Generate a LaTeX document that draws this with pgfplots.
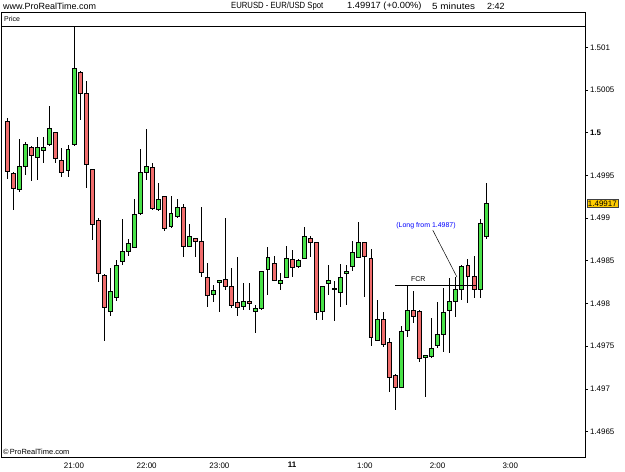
\documentclass[border=0pt]{standalone}
\usepackage{pgfplots}
\pgfplotsset{compat=1.18}
\usepackage{pgfplotstable}
\usepgfplotslibrary{statistics}
\usepackage{fontspec}
\setmainfont{Liberation Sans}
\definecolor{cgreen}{RGB}{72,226,72}
\definecolor{cred}{RGB}{240,108,108}
\definecolor{pricebox}{RGB}{255,204,0}

% 5-minute candles, EUR/USD: index, open, high, low, close
\pgfplotstableread{
i o h l c
0 1.50013 1.50017 1.49946 1.49955
1 1.49952 1.49954 1.49910 1.49935
2 1.49934 1.49993 1.49931 1.49960
3 1.49961 1.49989 1.49951 1.49986
4 1.49983 1.49984 1.49943 1.49974
5 1.49971 1.49995 1.49945 1.49983
6 1.49979 1.49995 1.49965 1.49983
7 1.49986 1.50031 1.49985 1.50005
8 1.50000 1.50001 1.49965 1.49970
9 1.49967 1.49982 1.49948 1.49954
10 1.49956 1.49986 1.49948 1.49981
11 1.49986 1.50124 1.49985 1.50075
12 1.50071 1.50072 1.50015 1.50046
13 1.50046 1.50060 1.49935 1.49963
14 1.49957 1.49958 1.49874 1.49893
15 1.49897 1.49900 1.49825 1.49835
16 1.49833 1.49834 1.49756 1.49796
17 1.49791 1.49842 1.49785 1.49814
18 1.49807 1.49851 1.49803 1.49845
19 1.49849 1.49899 1.49845 1.49861
20 1.49861 1.49876 1.49856 1.49870
21 1.49866 1.49922 1.49865 1.49904
22 1.49905 1.49981 1.49904 1.49954
23 1.49954 1.50004 1.49945 1.49960
24 1.49959 1.49965 1.49909 1.49911
25 1.49910 1.49941 1.49909 1.49922
26 1.49925 1.49926 1.49885 1.49888
27 1.49890 1.49926 1.49889 1.49905
28 1.49902 1.49922 1.49900 1.49913
29 1.49913 1.49916 1.49854 1.49867
30 1.49867 1.49893 1.49866 1.49878
31 1.49876 1.49877 1.49855 1.49873
32 1.49873 1.49913 1.49831 1.49836
33 1.49831 1.49847 1.49796 1.49810
34 1.49811 1.49822 1.49802 1.49815
35 1.49825 1.49828 1.49790 1.49827
36 1.49828 1.49900 1.49816 1.49820
37 1.49820 1.49841 1.49795 1.49798
38 1.49801 1.49854 1.49785 1.49796
39 1.49797 1.49824 1.49792 1.49802
40 1.49803 1.49824 1.49792 1.49800
41 1.49791 1.49798 1.49766 1.49794
42 1.49794 1.49838 1.49793 1.49838
43 1.49840 1.49866 1.49810 1.49854
44 1.49847 1.49856 1.49826 1.49827
45 1.49824 1.49836 1.49816 1.49827
46 1.49831 1.49867 1.49830 1.49853
47 1.49852 1.49863 1.49831 1.49842
48 1.49843 1.49852 1.49841 1.49851
49 1.49853 1.49889 1.49852 1.49878
50 1.49876 1.49879 1.49855 1.49872
51 1.49871 1.49872 1.49781 1.49789
52 1.49791 1.49820 1.49781 1.49820
53 1.49824 1.49845 1.49810 1.49827
54 1.49816 1.49826 1.49780 1.49818
55 1.49813 1.49846 1.49796 1.49831
56 1.49835 1.49845 1.49798 1.49837
57 1.49843 1.49873 1.49838 1.49860
58 1.49854 1.49896 1.49853 1.49871
59 1.49871 1.49872 1.49808 1.49855
60 1.49853 1.49864 1.49750 1.49760
61 1.49757 1.49804 1.49756 1.49781
62 1.49781 1.49790 1.49749 1.49752
63 1.49755 1.49760 1.49696 1.49714
64 1.49716 1.49717 1.49675 1.49702
65 1.49702 1.49774 1.49701 1.49767
66 1.49768 1.49822 1.49761 1.49792
67 1.49792 1.49815 1.49777 1.49785
68 1.49791 1.49792 1.49731 1.49736
69 1.49737 1.49739 1.49691 1.49739
70 1.49738 1.49783 1.49736 1.49748
71 1.49751 1.49802 1.49748 1.49764
72 1.49764 1.49818 1.49743 1.49789
73 1.49792 1.49830 1.49742 1.49802
74 1.49802 1.49831 1.49784 1.49817
75 1.49817 1.49845 1.49804 1.49844
76 1.49845 1.49852 1.49801 1.49832
77 1.49832 1.49856 1.49806 1.49817
78 1.49817 1.49899 1.49806 1.49894
79 1.49879 1.49941 1.49875 1.49917
}\ohlc

\begin{document}
\begin{tikzpicture}
\useasboundingbox (-1bp,-15bp) rectangle (624bp,457bp);
\begin{axis}[
  at={(0,0)}, anchor=south west,
  scale only axis, width=584bp, height=430.7bp,
  xmin=-1.04, xmax=95.33,
  ymin=1.4962025, ymax=1.501246,
  axis line style={line width=0.9bp},
  xtick={11,23,35,47,59,71,83},
  xticklabels={21:00,22:00,23:00,\textbf{11},1:00,2:00,3:00},
  xtick pos=left,
  ytick={1.4965,1.497,1.4975,1.498,1.4985,1.499,1.4995,1.5,1.5005,1.501},
  yticklabels={1.4965,1.497,1.4975,1.498,1.4985,1.499,1.4995,\textbf{1.5},1.5005,1.501},
  ytick pos=right, yticklabel pos=right,
  tick align=outside, major tick length=3bp,
  every tick/.style={black, line width=0.6bp},
  xtick style={draw=none},
  ticklabel style={font=\fontsize{8}{9}\selectfont},
  yticklabel style={xshift=-1.5bp},
  xticklabel style={yshift=1bp},
  clip=false,
  boxplot/draw direction=y,
  boxplot/box extend=0.65,
  boxplot/whisker extend=0,
]
\pgfplotsforeachungrouped \k in {0,...,79}{%
  \pgfplotstablegetelem{\k}{i}\of\ohlc\let\ci\pgfplotsretval
  \pgfplotstablegetelem{\k}{o}\of\ohlc\let\co\pgfplotsretval
  \pgfplotstablegetelem{\k}{h}\of\ohlc\let\ch\pgfplotsretval
  \pgfplotstablegetelem{\k}{l}\of\ohlc\let\cl\pgfplotsretval
  \pgfplotstablegetelem{\k}{c}\of\ohlc\let\cc\pgfplotsretval
  \ifdim\co pt<\cc pt
    \edef\next{\noexpand\addplot[draw=black, line width=0.8bp,
      boxplot/every box/.style={fill=cgreen},
      boxplot prepared={draw position=\ci, lower whisker=\cl,
        lower quartile=\co, median=\co, upper quartile=\cc,
        upper whisker=\ch}] coordinates {};}%
  \else
    \edef\next{\noexpand\addplot[draw=black, line width=0.8bp,
      boxplot/every box/.style={fill=cred},
      boxplot prepared={draw position=\ci, lower whisker=\cl,
        lower quartile=\cc, median=\cc, upper quartile=\co,
        upper whisker=\ch}] coordinates {};}%
  \fi
  \next
}
% FCR level
\addplot[black, line width=0.7bp] coordinates {(64,1.49821) (77.3,1.49821)};
\node[font=\fontsize{7}{8}\selectfont, inner sep=0] at (axis cs:67.8,1.49829) {FCR};
% pointer of the annotation
\addplot[black, line width=0.5bp] coordinates {(70.2,1.49886) (74.2,1.49831)};
\node[font=\fontsize{7}{8}\selectfont, text=blue, inner sep=0] at (axis cs:69.1,1.49891) {(Long from 1.4987)};
% current price marker
\node[anchor=west, fill=pricebox, draw=black!75, line width=0.5bp, inner sep=1.2bp,
  font=\fontsize{8}{9}\selectfont, xshift=1.5bp] at (axis cs:95.33,1.49917) {1.49917};
\end{axis}
% header band
\draw[line width=0.9bp] (0,430.7bp) -- (0,444.5bp) -- (584bp,444.5bp) -- (584bp,430.7bp);
\node[anchor=west, inner sep=0, font=\fontsize{7}{8}\selectfont] at (3bp,437.6bp) {Price};
% title line
\node[anchor=west, inner sep=0, font=\fontsize{9}{10}\selectfont] at (2bp,451bp) {www.ProRealTime.com};
\node[anchor=west, inner sep=0, font=\fontsize{9}{10}\selectfont] at (230bp,451bp) {\scalebox{0.86}[1]{EURUSD - EUR/USD Spot}};
\node[anchor=west, inner sep=0, font=\fontsize{9}{10}\selectfont] at (346bp,451bp) {\scalebox{1.04}[1]{1.49917 (+0.00\%)}};
\node[anchor=west, inner sep=0, font=\fontsize{9}{10}\selectfont] at (431bp,451bp) {\scalebox{1.1}[1]{5 minutes}};
\node[anchor=west, inner sep=0, font=\fontsize{9}{10}\selectfont] at (486bp,451bp) {2:42};
\node[anchor=west, inner sep=0, font=\fontsize{7.5}{8}\selectfont] at (2bp,5bp) {\textcopyright\,ProRealTime.com};
\end{tikzpicture}
\end{document}
